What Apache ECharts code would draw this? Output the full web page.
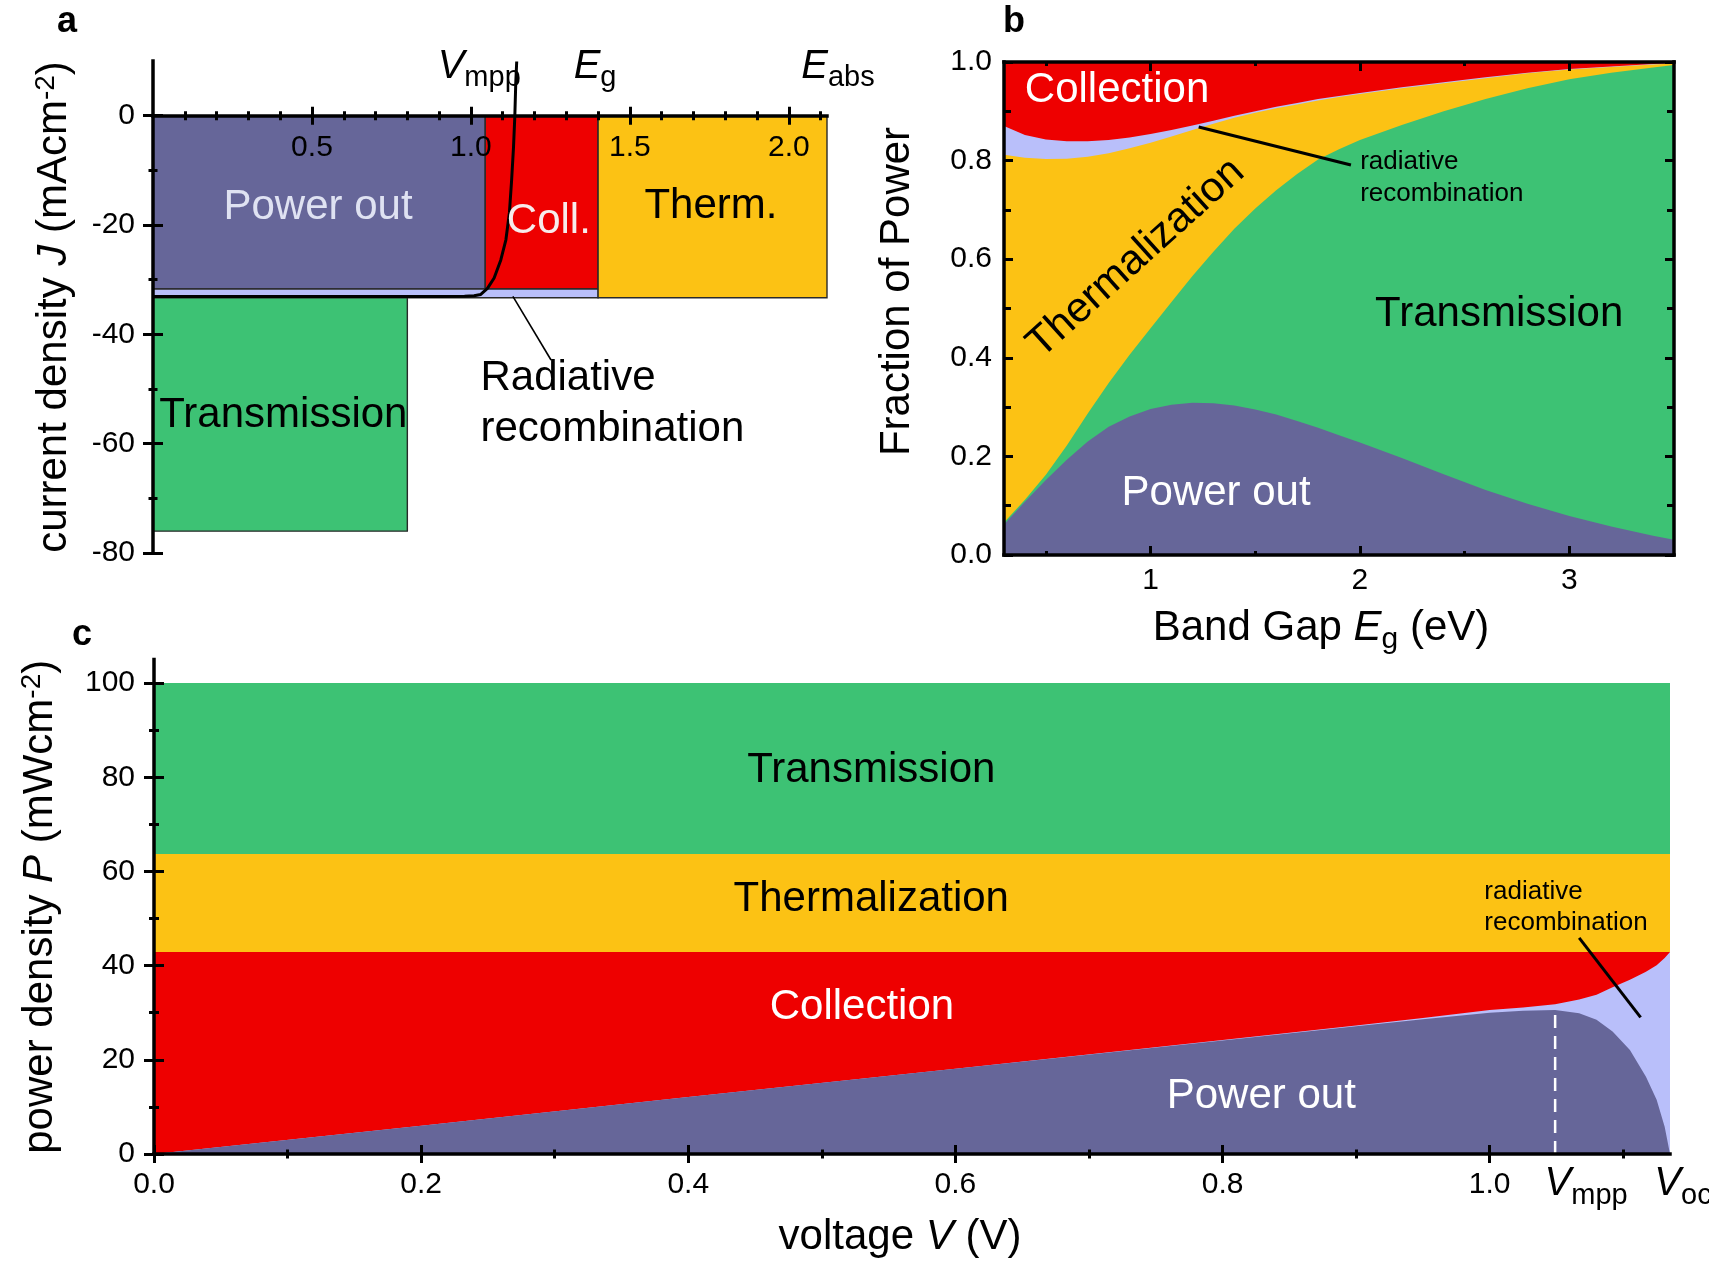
<!DOCTYPE html>
<html>
<head>
<meta charset="utf-8">
<script src="https://cdn.jsdelivr.net/npm/echarts@6/dist/echarts.min.js"></script>
<style>
  html, body { margin: 0; padding: 0; background: #ffffff; }
  #chart { width: 1709px; height: 1268px; }
</style>
</head>
<body>
<div id="chart"></div>
<script>
// ---------- shared look ----------
const INK = '#000000';
const FONT = "'Liberation Sans', Arial, Helvetica, sans-serif";
const C_POWER = '#666699';
const C_TRANS = '#3dc274';
const C_THERM = '#fcc214';
const C_COLL = '#ee0000';
const C_RAD = '#b9bffa';

// ---------- panel a: J–V box diagram ----------
const aVmpp = 1.045;      // voltage at maximum power point (V)
const aEg = 1.40;         // band gap (eV)
const aEabs = 2.12;       // mean absorbed photon energy (eV)
const aTransEdge = 0.80;  // mean transmitted photon energy (eV)
const aJmpp = -31.7;      // current density at mpp (mA/cm2)
const aJsc = -33.3;       // absorbed photon current (mA/cm2)
const aJtrans = -76.0;    // transmitted photon current (mA/cm2)
const jvVoltage = [0, 0.5, 0.9, 0.98, 1.01, 1.031, 1.052, 1.073, 1.094, 1.110, 1.121, 1.128, 1.134, 1.138, 1.141, 1.144];
const jvCurrent = [-33.1, -33.1, -33.1, -33.05, -32.95, -32.7, -31.6, -29.7, -26.4, -22.7, -17.8, -11.8, -5.7, -0.2, 5.9, 9.9];
const aMajorX = [0.5, 1.0, 1.5, 2.0];
const aMinorX = [0.1, 0.2, 0.3, 0.4, 0.6, 0.7, 0.8, 0.9, 1.1, 1.2, 1.3, 1.4, 1.6, 1.7, 1.8, 1.9, 2.1];
const aMajorY = [0, -20, -40, -60, -80];
const aMinorY = [-10, -30, -50, -70];

// ---------- panel b: loss fractions vs band gap ----------
const bandGap = [0.3, 0.4, 0.5, 0.6, 0.7, 0.8, 0.9, 1.0, 1.1, 1.2, 1.3, 1.4, 1.5, 1.6, 1.7, 1.8, 1.9, 2.0, 2.2, 2.4, 2.6, 2.8, 3.0, 3.2, 3.4, 3.5];
// upper edge of each stacked band (fraction of incident power)
const bPowerOutTop = [0.062, 0.108, 0.152, 0.193, 0.230, 0.260, 0.281, 0.296, 0.305, 0.309, 0.308, 0.303, 0.295, 0.285, 0.272, 0.258, 0.243, 0.228, 0.197, 0.164, 0.132, 0.104, 0.079, 0.058, 0.039, 0.031];
const bTransmissionTop = [0.066, 0.112, 0.163, 0.222, 0.287, 0.349, 0.406, 0.460, 0.513, 0.566, 0.615, 0.662, 0.703, 0.740, 0.773, 0.802, 0.823, 0.842, 0.872, 0.900, 0.925, 0.947, 0.965, 0.978, 0.989, 0.994];
const bThermalizationTop = [0.812, 0.806, 0.803, 0.804, 0.808, 0.815, 0.825, 0.836, 0.849, 0.862, 0.875, 0.887, 0.897, 0.906, 0.914, 0.922, 0.929, 0.935, 0.947, 0.957, 0.967, 0.977, 0.985, 0.990, 0.995, 0.997];
const bRadiativeTop = [0.870, 0.852, 0.843, 0.839, 0.839, 0.842, 0.847, 0.854, 0.862, 0.871, 0.881, 0.891, 0.900, 0.909, 0.917, 0.925, 0.931, 0.937, 0.949, 0.959, 0.969, 0.978, 0.986, 0.991, 0.996, 0.998];
const bEdges = [0.3, 3.5];
const bCollectionTop = [1.0, 1.0];
const bMajorX = [1, 2, 3];
const bMinorX = [0.5, 1.5, 2.5];
const bMajorY = [0, 0.2, 0.4, 0.6, 0.8, 1.0];
const bMinorY = [0.1, 0.3, 0.5, 0.7, 0.9];

// ---------- panel c: power density vs voltage ----------
const cVmpp = 1.049;
const cVoc = 1.135;
const cVoltage = [0, 0.2, 0.4, 0.6, 0.8, 0.9, 0.95, 1.0, 1.025, 1.049, 1.067, 1.08, 1.092, 1.105, 1.117, 1.125, 1.131, 1.135];
const cPowerOut = [0, 6.0, 12.1, 18.1, 24.1, 27.1, 28.6, 30.0, 30.4, 30.6, 29.9, 28.5, 26.0, 22.1, 16.4, 11.5, 5.8, 0];
const cRadiativeTop = [0, 6.0, 12.1, 18.1, 24.2, 27.3, 28.9, 30.6, 31.1, 31.8, 32.8, 33.8, 35.4, 37.0, 38.7, 40.1, 41.6, 42.9];
const cEdges = [0, 1.135];
const cCollectionTop = [42.9, 42.9];
const cThermalizationTop = [63.7, 63.7];
const cTransmissionTop = [100, 100];
const cMajorX = [0, 0.2, 0.4, 0.6, 0.8, 1.0];
const cMinorX = [0.1, 0.3, 0.5, 0.7, 0.9, 1.1];
const cMajorY = [0, 20, 40, 60, 80, 100];
const cMinorY = [10, 30, 50, 70, 90];

// ---------- rich text styles ----------
function supRich(size) {
  return {
    n: { fontFamily: FONT, fontSize: size, color: INK, verticalAlign: 'bottom' },
    i: { fontFamily: FONT, fontSize: size, fontStyle: 'italic', color: INK, verticalAlign: 'bottom' },
    sup: { fontFamily: FONT, fontSize: Math.round(size * 0.67), color: INK, verticalAlign: 'bottom', padding: [0, 0, 15, 0] }
  };
}
function subRich(size) {
  return {
    n: { fontFamily: FONT, fontSize: size, color: INK, verticalAlign: 'bottom', padding: [0, 0, 6, 0] },
    i: { fontFamily: FONT, fontSize: size, fontStyle: 'italic', color: INK, verticalAlign: 'bottom', padding: [0, 0, 6, 0] },
    sub: { fontFamily: FONT, fontSize: Math.round(size * 0.72), color: INK, verticalAlign: 'bottom' }
  };
}
// italic symbol with a plain subscript (V_mpp, E_g, ...)
const symbolRich = {
  v: { fontFamily: FONT, fontSize: 40, fontStyle: 'italic', fill: INK, verticalAlign: 'bottom', padding: [0, 0, 6, 0] },
  s: { fontFamily: FONT, fontSize: 29, fill: INK, verticalAlign: 'bottom' }
};

// ---------- axis builder ----------
function mkAxis(grid, o) {
  const ax = {
    type: 'value', gridIndex: grid, min: o.min, max: o.max, position: o.pos, z: 10,
    axisLine: {
      show: !!o.line, onZero: !!o.onZero, onZeroAxisIndex: o.onZeroAxisIndex,
      lineStyle: { color: INK, width: 3.5, cap: 'square' }
    },
    axisTick: o.ticks ? {
      show: true, customValues: o.ticks, length: o.len, inside: !!o.inside,
      lineStyle: { color: INK, width: 3 }
    } : { show: false },
    minorTick: { show: false },
    axisLabel: o.labels ? {
      show: true, customValues: o.labels, formatter: o.fmt, margin: o.margin,
      color: INK, fontFamily: FONT, fontSize: 30
    } : { show: false },
    splitLine: { show: false }
  };
  if (o.name) {
    ax.name = o.name;
    ax.nameLocation = 'middle';
    ax.nameGap = o.gap;
    ax.nameMoveOverlap = false;
    ax.nameTextStyle = Object.assign({ color: INK, fontFamily: FONT, fontSize: 42 }, o.nameStyle || {});
  }
  return ax;
}

const fmt1 = v => Number(v).toFixed(1);
const fmt0 = v => String(Math.round(v));

const xAxes = [
  // panel a (0-3): axis sits on J = 0, ticks cross the line
  mkAxis(0, { min: 0, max: aEabs, pos: 'bottom', line: true, onZero: true, onZeroAxisIndex: 0, ticks: aMajorX, len: 9 }),
  mkAxis(0, { min: 0, max: aEabs, pos: 'bottom', onZero: true, onZeroAxisIndex: 0, ticks: aMajorX, len: 9, inside: true }),
  mkAxis(0, { min: 0, max: aEabs, pos: 'bottom', onZero: true, onZeroAxisIndex: 0, ticks: aMinorX, len: 4.5 }),
  mkAxis(0, { min: 0, max: aEabs, pos: 'bottom', onZero: true, onZeroAxisIndex: 0, ticks: aMinorX, len: 4.5, inside: true }),
  // panel b (4-7): boxed frame, inward ticks
  mkAxis(1, { min: 0.3, max: 3.5, pos: 'bottom', line: true, ticks: bMajorX, len: 9, inside: true, labels: bMajorX, fmt: fmt0, margin: 11,
    name: '{n|Band Gap }{i|E}{sub|g}{n| (eV)}', gap: 52, nameStyle: { rich: subRich(42), padding: [0, 36, 0, 0] } }),
  mkAxis(1, { min: 0.3, max: 3.5, pos: 'bottom', ticks: bMinorX, len: 4, inside: true }),
  mkAxis(1, { min: 0.3, max: 3.5, pos: 'top', line: true, ticks: bMajorX, len: 9, inside: true }),
  mkAxis(1, { min: 0.3, max: 3.5, pos: 'top', ticks: bMinorX, len: 4, inside: true }),
  // panel c (8-11)
  mkAxis(2, { min: 0, max: cVoc, pos: 'bottom', line: true, ticks: cMajorX, len: 9, labels: cMajorX, fmt: fmt1, margin: 16,
    name: '{n|voltage }{i|V}{n| (V)}', gap: 62, nameStyle: { rich: supRich(42), padding: [0, 24, 0, 0] } }),
  mkAxis(2, { min: 0, max: cVoc, pos: 'bottom', ticks: cMajorX, len: 9, inside: true }),
  mkAxis(2, { min: 0, max: cVoc, pos: 'bottom', ticks: cMinorX, len: 4.5 }),
  mkAxis(2, { min: 0, max: cVoc, pos: 'bottom', ticks: cMinorX, len: 4.5, inside: true })
];

const yAxes = [
  // panel a (0-3)
  mkAxis(0, { min: -80, max: 10, pos: 'left', line: true, ticks: aMajorY, len: 10, labels: aMajorY, fmt: fmt0, margin: 18,
    name: '{n|current density }{i|J}{n| (mAcm}{sup|-2}{n|)}', gap: 78, nameStyle: { rich: supRich(42) } }),
  mkAxis(0, { min: -80, max: 10, pos: 'left', ticks: aMajorY, len: 10, inside: true }),
  mkAxis(0, { min: -80, max: 10, pos: 'left', ticks: aMinorY, len: 4.5 }),
  mkAxis(0, { min: -80, max: 10, pos: 'left', ticks: aMinorY, len: 4.5, inside: true }),
  // panel b (4-7)
  mkAxis(1, { min: 0, max: 1, pos: 'left', line: true, ticks: bMajorY, len: 9, inside: true, labels: bMajorY, fmt: fmt1, margin: 12,
    name: 'Fraction of Power', gap: 86, nameStyle: { padding: [0, 0, 0, 34] } }),
  mkAxis(1, { min: 0, max: 1, pos: 'left', ticks: bMinorY, len: 7, inside: true }),
  mkAxis(1, { min: 0, max: 1, pos: 'right', line: true, ticks: bMajorY, len: 9, inside: true }),
  mkAxis(1, { min: 0, max: 1, pos: 'right', ticks: bMinorY, len: 7, inside: true }),
  // panel c (8-11)
  mkAxis(2, { min: 0, max: 105, pos: 'left', line: true, ticks: cMajorY, len: 10, labels: cMajorY, fmt: fmt0, margin: 19,
    name: '{n|power density }{i|P}{n| (mWcm}{sup|-2}{n|)}', gap: 93, nameStyle: { rich: supRich(42) } }),
  mkAxis(2, { min: 0, max: 105, pos: 'left', ticks: cMajorY, len: 10, inside: true }),
  mkAxis(2, { min: 0, max: 105, pos: 'left', ticks: cMinorY, len: 5 }),
  mkAxis(2, { min: 0, max: 105, pos: 'left', ticks: cMinorY, len: 5, inside: true })
];

// ---------- series helpers ----------
function band(xi, yi, xs, tops, color) {
  return {
    type: 'line', xAxisIndex: xi, yAxisIndex: yi, silent: true, z: 2,
    data: xs.map((x, i) => [x, tops[i]]),
    showSymbol: false, symbol: 'none', smooth: false,
    lineStyle: { width: 0 },
    areaStyle: { color: color, opacity: 1, origin: 'start' }
  };
}
function segment(xi, yi, pts, style, z) {
  return {
    type: 'line', xAxisIndex: xi, yAxisIndex: yi, silent: true, z: z || 5,
    data: pts, showSymbol: false, symbol: 'none', clip: false,
    lineStyle: style
  };
}
// text placed at data coordinates; offset in pixels
function textLayer(xi, yi, items) {
  return {
    type: 'custom', xAxisIndex: xi, yAxisIndex: yi, silent: true, z: 30, clip: false,
    data: items.map(it => it.at),
    encode: { x: 0, y: 1 },
    renderItem: function (params, api) {
      const it = items[params.dataIndex];
      const p = api.coord([api.value(0), api.value(1)]);
      const off = it.offset || [0, 0];
      return {
        type: 'text',
        x: p[0] + off[0], y: p[1] + off[1],
        rotation: (it.rotate || 0) * Math.PI / 180,
        style: Object.assign({
          text: it.text, fill: INK, fontFamily: FONT, fontSize: 42,
          align: 'center', verticalAlign: 'middle'
        }, it.style || {})
      };
    }
  };
}

// panel a boxes: [x from, x to, J from, J to]
const aBoxes = [
  { box: [0, aVmpp, aJmpp, 0], fill: C_POWER },
  { box: [aVmpp, aEg, aJmpp, 0], fill: C_COLL },
  { box: [0, aEg, aJsc, aJmpp], fill: C_RAD },
  { box: [aEg, aEabs, aJsc, 0], fill: C_THERM },
  { box: [0, aTransEdge, aJtrans, aJsc], fill: C_TRANS }
];

const boxSeries = {
  type: 'custom', xAxisIndex: 0, yAxisIndex: 0, silent: true, z: 2, clip: false,
  data: aBoxes.map(b => b.box),
  encode: { x: [0, 1], y: [2, 3] },
  renderItem: function (params, api) {
    const tl = api.coord([api.value(0), api.value(3)]);
    const br = api.coord([api.value(1), api.value(2)]);
    return {
      type: 'rect',
      shape: { x: tl[0], y: tl[1], width: br[0] - tl[0], height: br[1] - tl[1] },
      style: { fill: aBoxes[params.dataIndex].fill, stroke: '#2a2a2a', lineWidth: 1.4 }
    };
  }
};

const series = [
  // ----- panel a -----
  boxSeries,
  segment(0, 0, jvVoltage.map((v, i) => [v, jvCurrent[i]]), { color: '#000', width: 3 }, 6),
  segment(0, 0, [[1.132, -33.05], [1.252, -44.7]], { color: '#000', width: 1.6 }, 6),
  textLayer(0, 0, aMajorX.map(v => ({ at: [v, 0], text: fmt1(v), offset: [0, 32], style: { fontSize: 30 } }))),
  textLayer(0, 0, [
    { at: [0.519, -16.7], text: 'Power out', style: { fill: '#dfe2f2' } },
    { at: [1.245, -19.3], text: 'Coll.', style: { fill: '#f7ecec' } },
    { at: [1.755, -16.6], text: 'Therm.' },
    { at: [0.41, -54.9], text: 'Transmission' },
    { at: [1.03, -52.8], text: 'Radiative\nrecombination', style: { align: 'left', lineHeight: 51 } },
    { at: [aVmpp, 0], text: '{v|V}{s|mpp}', offset: [-6, -46], style: { rich: symbolRich } },
    { at: [aEg, 0], text: '{v|E}{s|g}', offset: [-3, -46], style: { rich: symbolRich } },
    { at: [aEabs, 0], text: '{v|E}{s|abs}', offset: [11, -46], style: { rich: symbolRich } }
  ]),

  // ----- panel b -----
  band(4, 4, bEdges, bCollectionTop, C_COLL),
  band(4, 4, bandGap, bRadiativeTop, C_RAD),
  band(4, 4, bandGap, bThermalizationTop, C_THERM),
  band(4, 4, bandGap, bTransmissionTop, C_TRANS),
  band(4, 4, bandGap, bPowerOutTop, C_POWER),
  segment(4, 4, [[1.23, 0.868], [1.957, 0.791]], { color: '#000', width: 3 }, 6),
  textLayer(4, 4, [
    { at: [0.84, 0.942], text: 'Collection', style: { fill: '#ffffff' } },
    { at: [0.93, 0.602], text: 'Thermalization', rotate: 42 },
    { at: [2.665, 0.489], text: 'Transmission' },
    { at: [1.313, 0.124], text: 'Power out', style: { fill: '#ffffff' } },
    { at: [2.001, 0.765], text: 'radiative\nrecombination', style: { align: 'left', fontSize: 26, lineHeight: 32 } }
  ]),

  // ----- panel c -----
  band(8, 8, cEdges, cTransmissionTop, C_TRANS),
  band(8, 8, cEdges, cThermalizationTop, C_THERM),
  band(8, 8, cEdges, cCollectionTop, C_COLL),
  band(8, 8, cVoltage, cRadiativeTop, C_RAD),
  band(8, 8, cVoltage, cPowerOut, C_POWER),
  segment(8, 8, [[cVmpp, 0], [cVmpp, cPowerOut[cVoltage.indexOf(cVmpp)]]],
    { color: '#ffffff', width: 2.5, type: [13, 8] }, 6),
  segment(8, 8, [[1.067, 45.9], [1.113, 29.0]], { color: '#000', width: 3 }, 6),
  textLayer(8, 8, [
    { at: [0.537, 81.4], text: 'Transmission' },
    { at: [0.537, 54.1], text: 'Thermalization' },
    { at: [0.530, 31.2], text: 'Collection', style: { fill: '#ffffff' } },
    { at: [0.829, 12.2], text: 'Power out', style: { fill: '#ffffff' } },
    { at: [0.996, 52.4], text: 'radiative\nrecombination', style: { align: 'left', fontSize: 26, lineHeight: 31.5 } },
    { at: [cVmpp, 0], text: '{v|V}{s|mpp}', offset: [31, 33], style: { rich: symbolRich } },
    { at: [cVoc, 0], text: '{v|V}{s|oc}', offset: [13, 33], style: { rich: symbolRich } }
  ])
];

const chart = echarts.init(document.getElementById('chart'), null, { renderer: 'canvas' });
chart.setOption({
  animation: false,
  backgroundColor: '#ffffff',
  textStyle: { fontFamily: FONT },
  grid: [
    { left: 153, top: 61, width: 674, height: 492, containLabel: false, outerBoundsMode: 'none' },
    { left: 1004, top: 62, width: 670, height: 493, containLabel: false, outerBoundsMode: 'none' },
    { left: 154, top: 659.5, width: 1516, height: 494.5, containLabel: false, outerBoundsMode: 'none' }
  ],
  xAxis: xAxes,
  yAxis: yAxes,
  series: series,
  graphic: [
    { type: 'text', x: 67, y: 22, style: { text: 'a', font: 'bold 36px ' + FONT, fill: INK, align: 'center', verticalAlign: 'middle' } },
    { type: 'text', x: 1014, y: 22, style: { text: 'b', font: 'bold 36px ' + FONT, fill: INK, align: 'center', verticalAlign: 'middle' } },
    { type: 'text', x: 82, y: 635, style: { text: 'c', font: 'bold 36px ' + FONT, fill: INK, align: 'center', verticalAlign: 'middle' } }
  ]
});
</script>
</body>
</html>
